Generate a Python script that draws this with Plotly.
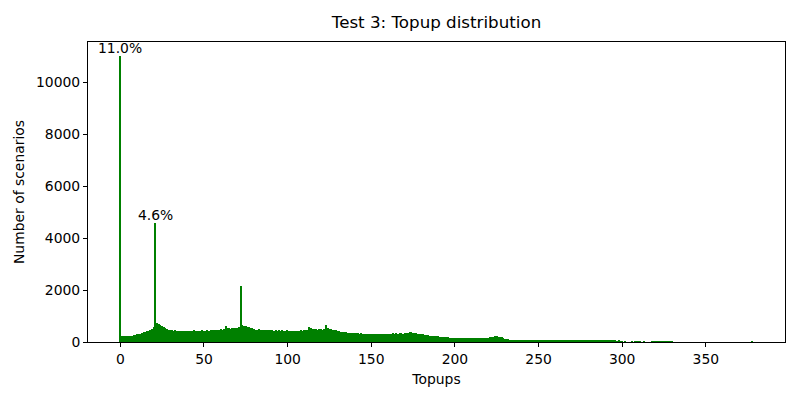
import plotly.graph_objects as go

# Number of scenarios per topup count (index = topups 0..378)
scenarios = [
    11000, 220, 230, 230, 240, 240, 250, 250, 260, 280,
    300, 310, 320, 350, 370, 390, 410, 440, 470, 500,
    560, 4600, 720, 700, 670, 600, 570, 520, 490, 480,
    460, 450, 440, 450, 430, 440, 420, 430, 440, 420,
    430, 440, 420, 430, 450, 440, 430, 420, 440, 450,
    440, 430, 450, 440, 460, 450, 470, 460, 480, 470,
    490, 480, 500, 620, 520, 530, 510, 540, 520, 530,
    540, 560, 2150, 650, 630, 610, 590, 560, 540, 520,
    500, 480, 470, 490, 460, 470, 450, 480, 460, 450,
    470, 450, 440, 460, 440, 450, 430, 460, 440, 430,
    450, 430, 420, 440, 430, 420, 440, 430, 450, 440,
    460, 470, 480, 580, 540, 510, 500, 490, 480, 500,
    490, 480, 500, 650, 520, 500, 490, 480, 470, 460,
    440, 420, 400, 390, 380, 370, 360, 360, 350, 340,
    340, 330, 330, 320, 330, 320, 310, 320, 300, 310,
    300, 310, 300, 310, 320, 300, 310, 300, 290, 310,
    300, 320, 310, 330, 320, 330, 310, 340, 330, 320,
    340, 350, 360, 370, 390, 360, 350, 340, 320, 310,
    300, 290, 280, 270, 260, 250, 240, 230, 230, 220,
    220, 210, 200, 190, 190, 180, 180, 170, 170, 160,
    160, 170, 160, 150, 160, 150, 160, 150, 150, 160,
    150, 160, 150, 160, 150, 170, 160, 150, 160, 170,
    170, 180, 200, 210, 220, 230, 210, 200, 180, 150,
    130, 110, 100, 90, 90, 80, 90, 80, 80, 90,
    80, 80, 70, 80, 70, 70, 60, 70, 60, 60,
    60, 70, 60, 50, 60, 60, 70, 60, 50, 60,
    60, 50, 60, 60, 70, 60, 60, 50, 60, 70,
    70, 80, 90, 90, 80, 90, 80, 70, 60, 60,
    60, 50, 60, 50, 60, 50, 40, 50, 50, 40,
    50, 40, 40, 50, 40, 40, 40, 30, 40, 30,
    30, 0, 20, 0, 0, 0, 20, 0, 20, 30,
    20, 20, 0, 20, 0, 0, 0, 0, 20, 30,
    30, 20, 30, 20, 30, 20, 30, 20, 20, 20,
    10, 0, 0, 0, 0, 0, 0, 0, 0, 0,
    0, 0, 0, 0, 0, 0, 0, 0, 0, 0,
    0, 0, 0, 0, 0, 0, 0, 0, 0, 0,
    0, 0, 0, 0, 0, 0, 0, 0, 0, 0,
    0, 0, 0, 0, 0, 0, 0, 0, 15,
]
topups = list(range(len(scenarios)))
total_scenarios = 100000
labelled_topups = [0, 21]
x_ticks = [0, 50, 100, 150, 200, 250, 300, 350]
y_ticks = [0, 2000, 4000, 6000, 8000, 10000]

FONT = "DejaVu Sans"

fig = go.Figure()
fig.add_trace(go.Bar(
    x=topups, y=scenarios, width=0.8,
    marker=dict(color="#008000", line=dict(width=0)),
    showlegend=False,
))

for t in labelled_topups:
    v = scenarios[t]
    fig.add_annotation(
        x=t, y=v, xref="x", yref="y",
        text=f"{v / total_scenarios * 100:.1f}%",
        showarrow=False, yanchor="bottom", xanchor="center", yshift=-2,
        font=dict(family=FONT, size=13.9, color="black"),
    )

xmin, xmax = -0.4, topups[-1] + 0.4
pad = (xmax - xmin) * 0.05
fig.update_layout(
    width=800, height=400,
    margin=dict(l=80, r=23, t=34, b=66),
    plot_bgcolor="white", paper_bgcolor="white",
    font=dict(family=FONT, size=13.9, color="black"),
    title=dict(text="Test 3: Topup distribution", x=0.5, xref="paper",
               y=1 - 14 / 400, yref="container", yanchor="middle",
               font=dict(family=FONT, size=16.7, color="black")),
    bargap=0,
)
fig.update_xaxes(
    range=[xmin - pad, xmax + pad], automargin=False,
    tickvals=x_ticks, ticktext=[str(v) for v in x_ticks],
    ticks="outside", ticklen=4, tickwidth=1, tickcolor="black",
    showline=True, linecolor="black", linewidth=1, mirror=True,
    showgrid=False, zeroline=False,
    title=dict(text="Topups", standoff=8, font=dict(family=FONT, size=13.9)),
)
fig.update_yaxes(
    range=[0, max(scenarios) * 1.05], automargin=False,
    tickvals=y_ticks, ticktext=[str(v) for v in y_ticks],
    ticks="outside", ticklen=4, tickwidth=1, tickcolor="black",
    showline=True, linecolor="black", linewidth=1, mirror=True,
    showgrid=False, zeroline=False,
    title=dict(text="Number of scenarios", standoff=8, font=dict(family=FONT, size=13.9)),
)

fig.write_html("out.html")
